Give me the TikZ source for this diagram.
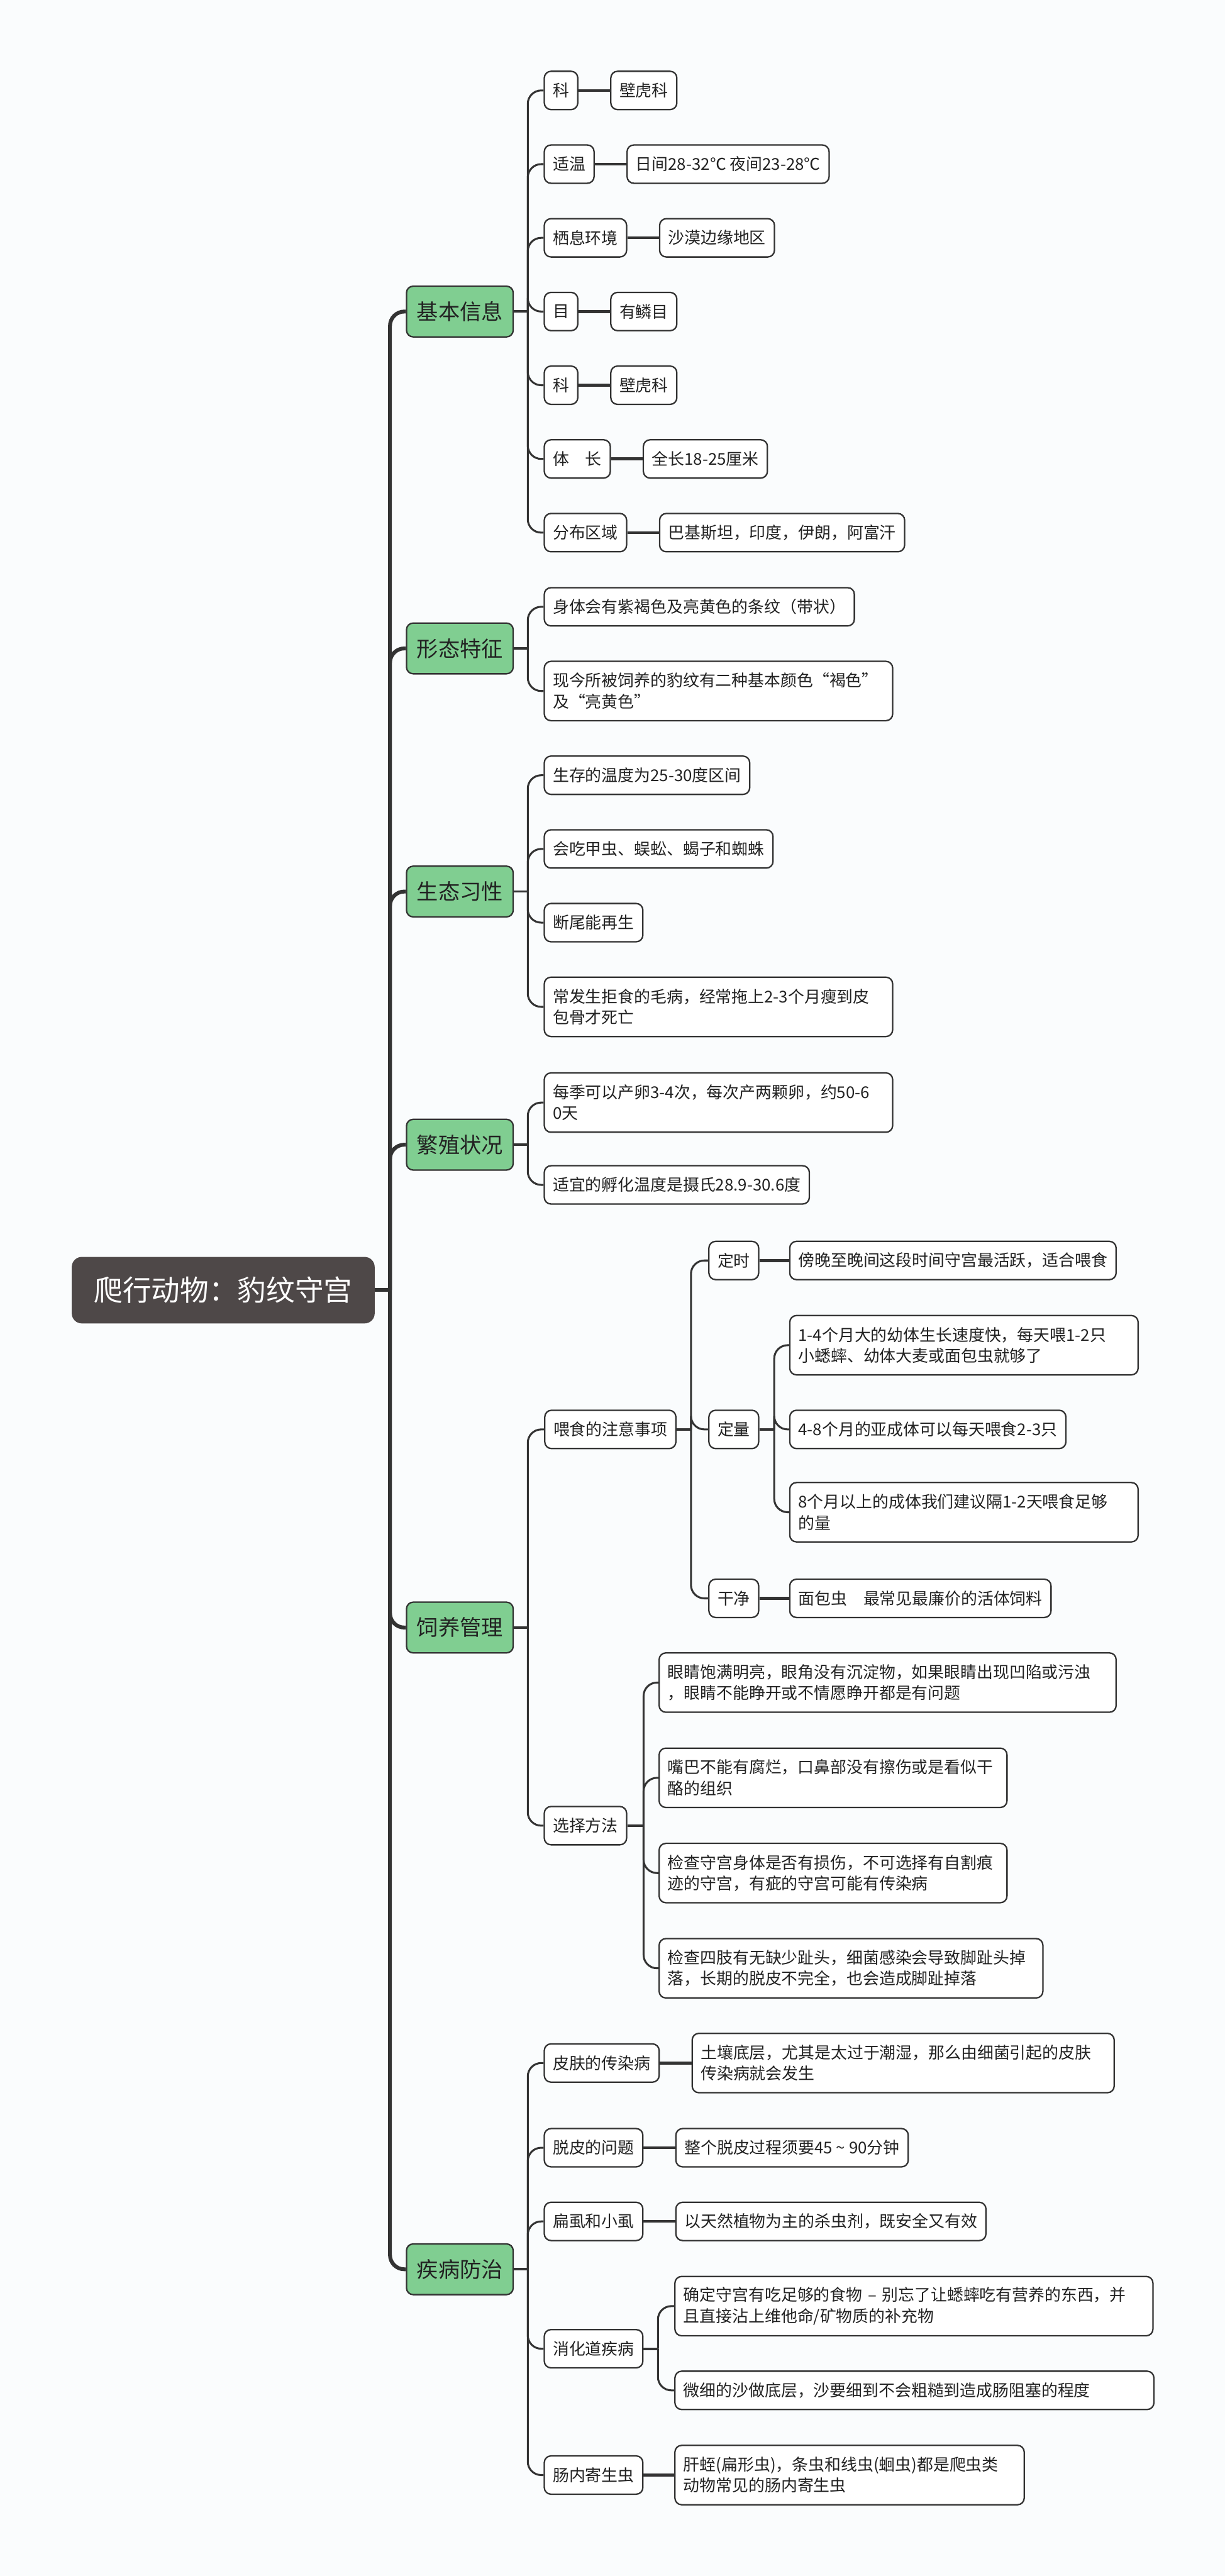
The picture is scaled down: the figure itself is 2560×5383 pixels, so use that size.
\documentclass[tikz,border=0pt]{standalone}
\usepackage{fontspec}
\setmainfont{Noto Sans CJK SC}
\usetikzlibrary{positioning}
\definecolor{bgc}{RGB}{250,252,253}
\definecolor{linec}{RGB}{51,51,51}
\definecolor{rootc}{RGB}{78,72,72}
\definecolor{greenc}{RGB}{128,206,145}
\definecolor{textc}{RGB}{34,34,34}
\newcommand\fleaf{\fontsize{17pt}{22pt}\selectfont}
\newcommand\fmainlv{\fontsize{22.5pt}{27pt}\selectfont}
\newcommand\frootlv{\fontsize{30pt}{36pt}\selectfont}
\begin{document}
\begin{tikzpicture}[x=0.5pt,y=-0.5pt,
  rootbox/.style={fill=rootc, draw=rootc, line width=1pt, rounded corners=10pt, text=white, font=\frootlv, minimum width=315.5pt, minimum height=68.5pt, anchor=west, inner sep=0pt},
  mainbox/.style={fill=greenc, draw=linec, line width=1.5pt, rounded corners=7pt, text=textc, font=\fmainlv, minimum width=111.5pt, minimum height=53pt, anchor=west, inner sep=0pt},
  leaf/.style={fill=white, draw=linec, line width=1.5pt, rounded corners=7pt, text=textc, font=\fleaf, minimum height=40pt, anchor=west, inner xsep=9pt, inner ysep=0pt},
  two/.style={leaf, minimum height=62pt, align=left},
  wide/.style={leaf, align=left},
  trunk/.style={draw=linec, line width=4pt, rounded corners=15pt},
  stem/.style={draw=linec, line width=2.5pt},
  br/.style={draw=linec, line width=2pt, rounded corners=14pt},
  hl/.style={draw=linec, line width=3pt}
]
\path[fill=bgc, use as bounding box] (0,0) rectangle (2560,5383);

% root and main branches
\node[rootbox] (r) at (150,2696) {爬行动物：豹纹守宫};
\node[mainbox] (b1) at (848,651) {基本信息};
\node[mainbox] (b2) at (848,1355) {形态特征};
\node[mainbox] (b3) at (848,1863) {生态习性};
\node[mainbox] (b4) at (848,2392) {繁殖状况};
\node[mainbox] (b5) at (848,3401) {饲养管理};
\node[mainbox] (b6) at (848,4742) {疾病防治};

% 基本信息
\node[leaf] (a1) at (1136,189) {科};
\node[leaf, right=33pt of a1] (a1x) {壁虎科};
\node[leaf] (a2) at (1136,343) {适温};
\node[leaf, right=33pt of a2] (a2x) {日间28-32℃ 夜间23-28℃};
\node[leaf] (a3) at (1136,497) {栖息环境};
\node[leaf, right=33pt of a3] (a3x) {沙漠边缘地区};
\node[leaf] (a4) at (1136,651) {目};
\node[leaf, right=33pt of a4] (a4x) {有鳞目};
\node[leaf] (a5) at (1136,805) {科};
\node[leaf, right=33pt of a5] (a5x) {壁虎科};
\node[leaf] (a6) at (1136,959) {体　长};
\node[leaf, right=33pt of a6] (a6x) {全长18-25厘米};
\node[leaf] (a7) at (1136,1113) {分布区域};
\node[leaf, right=33pt of a7] (a7x) {巴基斯坦，印度，伊朗，阿富汗};

% 形态特征
\node[leaf] (c1) at (1136,1268) {身体会有紫褐色及亮黄色的条纹（带状）};
\node[two, text width=346pt] (c2) at (1136,1444) {现今所被饲养的豹纹有二种基本颜色“褐色”\\及“亮黄色”};

% 生态习性
\node[leaf] (d1) at (1136,1620) {生存的温度为25-30度区间};
\node[leaf] (d2) at (1136,1774) {会吃甲虫、蜈蚣、蝎子和蜘蛛};
\node[leaf] (d3) at (1136,1928) {断尾能再生};
\node[two, text width=346pt] (d4) at (1136,2104) {常发生拒食的毛病，经常拖上2-3个月瘦到皮\\包骨才死亡};

% 繁殖状况
\node[two, text width=346pt] (e1) at (1136,2304) {每季可以产卵3-4次，每次产两颗卵，约50-6\\0天};
\node[leaf] (e2) at (1136,2476) {适宜的孵化温度是摄氏28.9-30.6度};

% 饲养管理
\node[leaf] (f1) at (1137,2987) {喂食的注意事项};
\node[leaf] (f11) at (1480,2634) {定时};
\node[leaf] (f11x) at (1649,2634) {傍晚至晚间这段时间守宫最活跃，适合喂食};
\node[leaf] (f12) at (1480,2987) {定量};
\node[two, text width=346pt] (f121) at (1649,2811) {1-4个月大的幼体生长速度快，每天喂1-2只\\小蟋蟀、幼体大麦或面包虫就够了};
\node[leaf] (f122) at (1649,2987) {4-8个月的亚成体可以每天喂食2-3只};
\node[two, text width=346pt] (f123) at (1649,3160) {8个月以上的成体我们建议隔1-2天喂食足够\\的量};
\node[leaf] (f13) at (1480,3340) {干净};
\node[leaf] (f13x) at (1649,3340) {面包虫　最常见最廉价的活体饲料};
\node[leaf] (f2) at (1136,3815) {选择方法};
\node[two, text width=459.5pt] (f21) at (1376,3516) {眼睛饱满明亮，眼角没有沉淀物，如果眼睛出现凹陷或污浊\\，眼睛不能睁开或不情愿睁开都是有问题};
\node[two, text width=345.5pt] (f22) at (1376,3715) {嘴巴不能有腐烂，口鼻部没有擦伤或是看似干\\酪的组织};
\node[two, text width=345.5pt] (f23) at (1376,3914) {检查守宫身体是否有损伤，不可选择有自割痕\\迹的守宫，有疵的守宫可能有传染病};
\node[two, text width=383pt] (f24) at (1376,4113) {检查四肢有无缺少趾头，细菌感染会导致脚趾头掉\\落，长期的脱皮不完全，也会造成脚趾掉落};

% 疾病防治
\node[leaf] (g1) at (1136,4311) {皮肤的传染病};
\node[two, text width=423pt] (g1x) at (1445,4311) {土壤底层，尤其是太过于潮湿，那么由细菌引起的皮肤\\传染病就会发生};
\node[leaf] (g2) at (1136,4488) {脱皮的问题};
\node[leaf, right=33pt of g2] (g2x) {整个脱皮过程须要45 \textasciitilde{} 90分钟};
\node[leaf] (g3) at (1136,4642) {扁虱和小虱};
\node[leaf, right=33pt of g3] (g3x) {以天然植物为主的杀虫剂，既安全又有效};
\node[leaf] (g4) at (1136,4908) {消化道疾病};
\node[two, text width=481.5pt] (g41) at (1409,4819) {确定守宫有吃足够的食物 – 别忘了让蟋蟀吃有营养的东西，并\\且直接沾上维他命/矿物质的补充物};
\node[wide, text width=482.5pt] (g42) at (1409,4995) {微细的沙做底层，沙要细到不会粗糙到造成肠阻塞的程度};
\node[leaf] (g5) at (1136,5172) {肠内寄生虫};
\node[two, text width=347pt] (g5x) at (1409,5172) {肝蛭(扁形虫)，条虫和线虫(蛔虫)都是爬虫类\\动物常见的肠内寄生虫};

% ---------- connectors ----------
\coordinate (t) at (815,2696);
\draw[trunk] (r.east) -- (t);
\foreach \n in {b1,b2,b3,b4,b5,b6} \draw[trunk] (t) |- (\n.west);

% 基本信息
\coordinate (s1) at (1103,651);
\draw[stem] (b1.east) -- (s1);
\foreach \n in {a1,a2,a3,a4,a5,a6,a7} \draw[br] (s1) |- (\n.west);
\foreach \n in {a1,a2,a3,a4,a5,a6,a7} \draw[hl] (\n.east) -- (\n x.west);

% 形态特征
\coordinate (s2) at (1103,1355);
\draw[stem] (b2.east) -- (s2);
\foreach \n in {c1,c2} \draw[br] (s2) |- (\n.west);

% 生态习性
\coordinate (s3) at (1103,1863);
\draw[stem] (b3.east) -- (s3);
\foreach \n in {d1,d2,d3,d4} \draw[br] (s3) |- (\n.west);

% 繁殖状况
\coordinate (s4) at (1103,2392);
\draw[stem] (b4.east) -- (s4);
\foreach \n in {e1,e2} \draw[br] (s4) |- (\n.west);

% 饲养管理
\coordinate (s5) at (1103,3401);
\draw[stem] (b5.east) -- (s5);
\foreach \n in {f1,f2} \draw[br] (s5) |- (\n.west);
\coordinate (s51) at (1444,2987);
\draw[stem] (f1.east) -- (s51);
\foreach \n in {f11,f12,f13} \draw[br] (s51) |- (\n.west);
\draw[hl] (f11.east) -- (f11x.west);
\draw[hl] (f13.east) -- (f13x.west);
\coordinate (s512) at (1618,2987);
\draw[stem] (f12.east) -- (s512);
\foreach \n in {f121,f122,f123} \draw[br] (s512) |- (\n.west);
\coordinate (s52) at (1345,3815);
\draw[stem] (f2.east) -- (s52);
\foreach \n in {f21,f22,f23,f24} \draw[br] (s52) |- (\n.west);

% 疾病防治
\coordinate (s6) at (1103,4742);
\draw[stem] (b6.east) -- (s6);
\foreach \n in {g1,g2,g3,g4,g5} \draw[br] (s6) |- (\n.west);
\draw[hl] (g1.east) -- (g1x.west);
\draw[hl] (g2.east) -- (g2x.west);
\draw[hl] (g3.east) -- (g3x.west);
\draw[hl] (g5.east) -- (g5x.west);
\coordinate (s64) at (1375,4908);
\draw[stem] (g4.east) -- (s64);
\foreach \n in {g41,g42} \draw[br] (s64) |- (\n.west);
\end{tikzpicture}
\end{document}
